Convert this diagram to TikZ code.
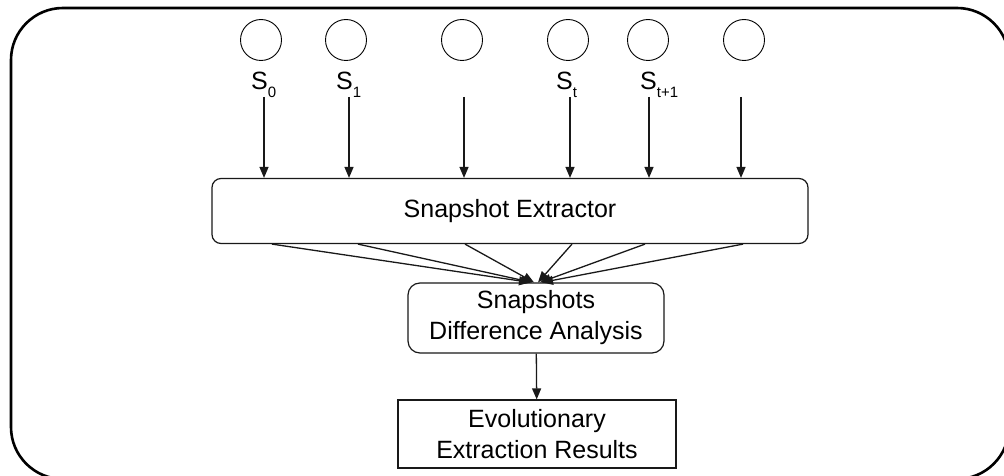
\documentclass[tikz,border=0pt]{standalone}
\usepackage{fontspec}
\setmainfont{Liberation Sans}
\usetikzlibrary{arrows.meta}
\newcommand\sublbl[1]{\raisebox{-8pt}{\fontsize{15}{15}\selectfont #1}}
\begin{document}
\begin{tikzpicture}[x=1pt,y=-1pt,
  lbl/.style={font=\fontsize{25}{30}\selectfont, inner sep=0pt, anchor=base west},
  src/.style={circle, draw=black, line width=0.9pt, minimum size=41pt, inner sep=0pt},
  box/.style={draw=black!90, line width=1.2pt, align=center, font=\fontsize{25}{31}\selectfont, inner sep=0pt},
  flow/.style={draw=black!90, line width=1.3pt, -{Triangle[length=11pt,width=9pt]}},
  frame/.style={draw=black, line width=2.6pt, rounded corners=52pt}]
\useasboundingbox (0,0) rectangle (1004,476);
% outer frame, partly running off the page
\begin{scope}
  \clip (0,0) rectangle (1004,476);
  \path[frame] (11,8) rectangle (1009,479);
\end{scope}
% snapshot sources
\node[src] (c0) at (261,40) {};
\node[src] (c1) at (346,40) {};
\node[src] (c2) at (462,40) {};
\node[src] (c3) at (568,40) {};
\node[src] (c4) at (648,40) {};
\node[src] (c5) at (744,40) {};
\node[lbl] (l0) at (251,90) {S\sublbl{0}};
\node[lbl] (l1) at (336,90) {S\sublbl{1}};
\node[lbl] (l3) at (556,90) {S\sublbl{t}};
\node[lbl] (l4) at (640,90) {S\sublbl{t+1}};
% processing stages
\node[box, rounded corners=9pt, minimum width=596pt, minimum height=65pt] (ext) at (510,211) {Snapshot Extractor};
\node[box, rounded corners=12pt, minimum width=256pt, minimum height=70pt] (sda) at (536,318) {Snapshots\\Difference Analysis};
\node[box, minimum width=278pt, minimum height=68pt] (eer) at (537,434) {Evolutionary\\Extraction Results};
% inputs into the extractor
\foreach \i/\x in {0/264,1/349,2/464,3/570,4/649,5/741}{
  \coordinate (a\i) at (\x,97);
  \draw[flow] (a\i) -- (a\i |- ext.north);
}
% fan-in to the difference analysis
\foreach \i/\x/\t in {0/272/-6,1/358/-4,2/465/-2,3/572/2,4/645/4,5/743/6}{
  \coordinate (b\i) at (\x,243);
  \draw[flow] (b\i |- ext.south) -- ([xshift=\t pt]sda.north);
}
\draw[flow] (sda) -- (eer);
\end{tikzpicture}
\end{document}
